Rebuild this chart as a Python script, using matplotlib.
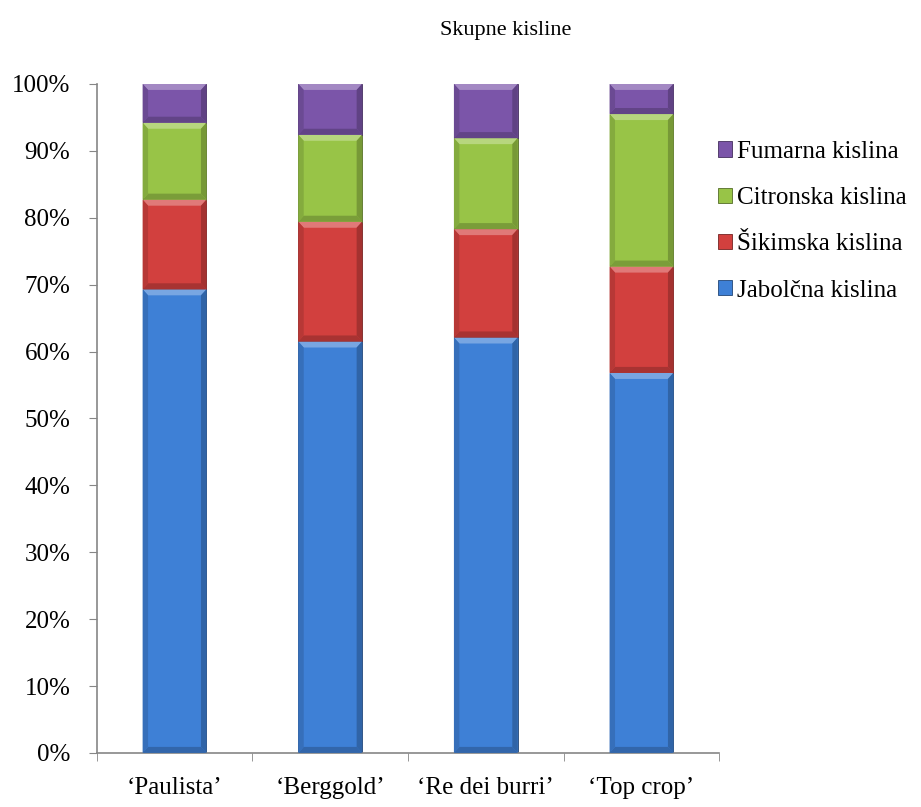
import numpy as np
import matplotlib.pyplot as plt
from matplotlib.patches import Polygon
from matplotlib.colors import to_rgb

plt.rcParams['font.family'] = ['Liberation Serif', 'DejaVu Serif']

categories = ["\u2018Paulista\u2019", "\u2018Berggold\u2019", "\u2018Re dei burri\u2019", "\u2018Top crop\u2019"]
series_names = ["Jabol\u010dna kislina", "\u0160ikimska kislina", "Citronska kislina", "Fumarna kislina"]
jabolcna = [69.3, 61.5, 62.1, 56.8]
sikimska = [13.4, 17.9, 16.2, 15.9]
citronska = [11.5, 13.0, 13.6, 22.8]
fumarna = [5.8, 7.6, 8.1, 4.5]
colors = ["#3e80d6", "#d2403e", "#98c447", "#7b55a9"]

data = np.array([jabolcna, sikimska, citronska, fumarna])
# stacked percentages (normalise each column to 100)
pct = data / data.sum(axis=0) * 100

def shade(c, f):
    r, g, b = to_rgb(c)
    if f > 1:
        return (r + (1 - r) * (f - 1), g + (1 - g) * (f - 1), b + (1 - b) * (f - 1))
    return (r * f, g * f, b * f)

def bevel(ax, patch, color, bx=0.035, by=0.9):
    x0, y0 = patch.get_x(), patch.get_y()
    w, h = patch.get_width(), patch.get_height()
    x1, y1 = x0 + w, y0 + h
    by = min(by, h / 3)
    parts = [
        ([(x0, y1), (x1, y1), (x1 - bx, y1 - by), (x0 + bx, y1 - by)], shade(color, 1.3)),
        ([(x0, y0), (x1, y0), (x1 - bx, y0 + by), (x0 + bx, y0 + by)], shade(color, 0.8)),
        ([(x0, y0), (x0 + bx, y0 + by), (x0 + bx, y1 - by), (x0, y1)], shade(color, 0.87)),
        ([(x1, y0), (x1 - bx, y0 + by), (x1 - bx, y1 - by), (x1, y1)], shade(color, 0.78)),
    ]
    for pts, c in parts:
        ax.add_patch(Polygon(pts, closed=True, facecolor=c, edgecolor='none', zorder=3))

fig = plt.figure(figsize=(9.21, 8.07), dpi=100)
ax = fig.add_axes([0.105, 0.067, 0.676, 0.829])

x = np.arange(len(categories))
bottom = np.zeros(len(categories))
handles = []
for vals, name, col in zip(pct, series_names, colors):
    bars = ax.bar(x, vals, width=0.41, bottom=bottom, color=col, label=name,
                  edgecolor=shade(col, 0.55), linewidth=0.6, zorder=2)
    for p in bars:
        bevel(ax, p, col)
    handles.append(bars)
    bottom += vals

ax.set_xlim(-0.5, len(categories) - 0.5)
ax.set_ylim(0, 100)
ax.set_yticks(np.arange(0, 101, 10))
ax.set_yticklabels([f"{v}%" for v in range(0, 101, 10)], fontsize=18)
ax.set_xticks(x)
ax.set_xticklabels(categories, fontsize=18)
ax.set_xticks(np.arange(-0.5, len(categories), 1), minor=True)
ax.tick_params(axis='x', which='major', length=0, pad=17)
ax.tick_params(axis='x', which='minor', length=6, color='#868686')
ax.tick_params(axis='y', length=6, color='#868686', pad=13)
for s in ['top', 'right']:
    ax.spines[s].set_visible(False)
for s in ['left', 'bottom']:
    ax.spines[s].set_color('#868686')
    ax.spines[s].set_linewidth(1.2)

fig.text(0.549, 0.962, "Skupne kisline", ha='center', va='center', fontsize=16)

leg = fig.legend(handles[::-1], series_names[::-1], loc='upper left',
                 bbox_to_anchor=(0.766, 0.841), frameon=False, fontsize=18,
                 handlelength=0.55, handleheight=0.55, handletextpad=0.2,
                 labelspacing=0.97, borderpad=0)

fig.savefig("out.png", dpi=100)
